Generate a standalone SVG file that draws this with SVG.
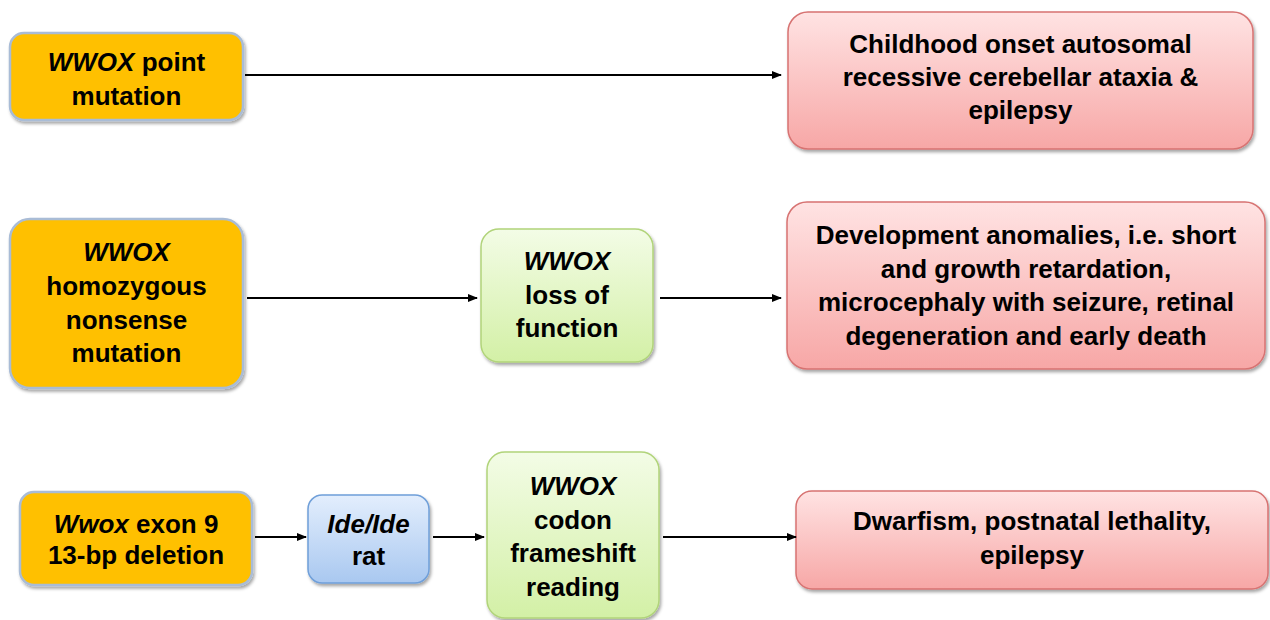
<svg xmlns="http://www.w3.org/2000/svg" width="1270" height="620" viewBox="0 0 1270 620">
<defs>
<linearGradient id="gRed" x1="0" y1="0" x2="0" y2="1"><stop offset="0" stop-color="#ffe3e3"/><stop offset="1" stop-color="#f7a7a6"/></linearGradient>
<linearGradient id="gGreen" x1="0" y1="0" x2="0" y2="1"><stop offset="0" stop-color="#f3fce6"/><stop offset="1" stop-color="#d3f0a6"/></linearGradient>
<linearGradient id="gBlue" x1="0" y1="0" x2="0" y2="1"><stop offset="0" stop-color="#e3eefd"/><stop offset="1" stop-color="#a9c8f0"/></linearGradient>
<filter id="sh" x="-10%" y="-10%" width="125%" height="130%"><feDropShadow dx="1.5" dy="2.5" stdDeviation="1.8" flood-color="#000" flood-opacity="0.35"/></filter>
<marker id="arr" markerWidth="10" markerHeight="8" refX="9" refY="4" orient="auto" markerUnits="userSpaceOnUse"><path d="M0,0 L10,4 L0,8 Z" fill="#000"/></marker>
</defs>
<style>
.y{fill:#ffc000;stroke:#a9bcd6;stroke-width:2.5;filter:url(#sh)}
.r{fill:url(#gRed);stroke:#d77372;stroke-width:1.5;filter:url(#sh)}
.g{fill:url(#gGreen);stroke:#b1d47a;stroke-width:1.5;filter:url(#sh)}
.b{fill:url(#gBlue);stroke:#6f9fd9;stroke-width:1.5;filter:url(#sh)}
text{font-family:"Liberation Sans",Arial,sans-serif;font-weight:bold;font-size:26px;fill:#000;text-anchor:middle}
.i{font-style:italic}
.c line{stroke:#000;stroke-width:2;marker-end:url(#arr)}
</style>
<g id="n1"><rect class="y" x="10" y="33" width="233" height="87" rx="14"/>
<text x="126.5" y="71"><tspan class="i">WWOX</tspan> point</text><text x="126.5" y="105">mutation</text></g>
<g id="n2"><rect class="r" x="788" y="12" width="465" height="137" rx="20"/>
<text x="1020.5" y="53">Childhood onset autosomal</text><text x="1020.5" y="86">recessive cerebellar ataxia &amp;</text><text x="1020.5" y="119">epilepsy</text></g>
<g id="n3"><rect class="y" x="10" y="219" width="233" height="169" rx="20"/>
<text x="126.5" y="261" class="i">WWOX</text><text x="126.5" y="295">homozygous</text><text x="126.5" y="329">nonsense</text><text x="126.5" y="362">mutation</text></g>
<g id="n4"><rect class="g" x="481" y="229" width="172" height="133" rx="18"/>
<text x="567" y="270" class="i">WWOX</text><text x="567" y="304">loss of</text><text x="567" y="337">function</text></g>
<g id="n5"><rect class="r" x="787" y="202" width="478" height="167" rx="20"/>
<text x="1026" y="244">Development anomalies, i.e. short</text><text x="1026" y="278">and growth retardation,</text><text x="1026" y="311">microcephaly with seizure, retinal</text><text x="1026" y="345">degeneration and early death</text></g>
<g id="n6"><rect class="y" x="20" y="492" width="232" height="93" rx="14"/>
<text x="136" y="533"><tspan class="i">Wwox</tspan> exon 9</text><text x="136" y="564">13-bp deletion</text></g>
<g id="n7"><rect class="b" x="308" y="495" width="121" height="88" rx="14"/>
<text x="368.5" y="533" class="i">Ide/Ide</text><text x="368.5" y="565">rat</text></g>
<g id="n8"><rect class="g" x="487" y="452" width="172" height="166" rx="18"/>
<text x="573" y="495" class="i">WWOX</text><text x="573" y="529">codon</text><text x="573" y="562">frameshift</text><text x="573" y="596">reading</text></g>
<g id="n9"><rect class="r" x="796" y="491" width="472" height="98" rx="16"/>
<text x="1032" y="530">Dwarfism, postnatal lethality,</text><text x="1032" y="564">epilepsy</text></g>
<g class="c" id="connectors">
<line x1="245" y1="75" x2="781" y2="75"/>
<line x1="247" y1="298" x2="477" y2="298"/>
<line x1="660" y1="298" x2="781" y2="298"/>
<line x1="255" y1="537" x2="306" y2="537"/>
<line x1="433" y1="537" x2="484" y2="537"/>
<line x1="663" y1="537" x2="796" y2="537"/>
</g>
</svg>
